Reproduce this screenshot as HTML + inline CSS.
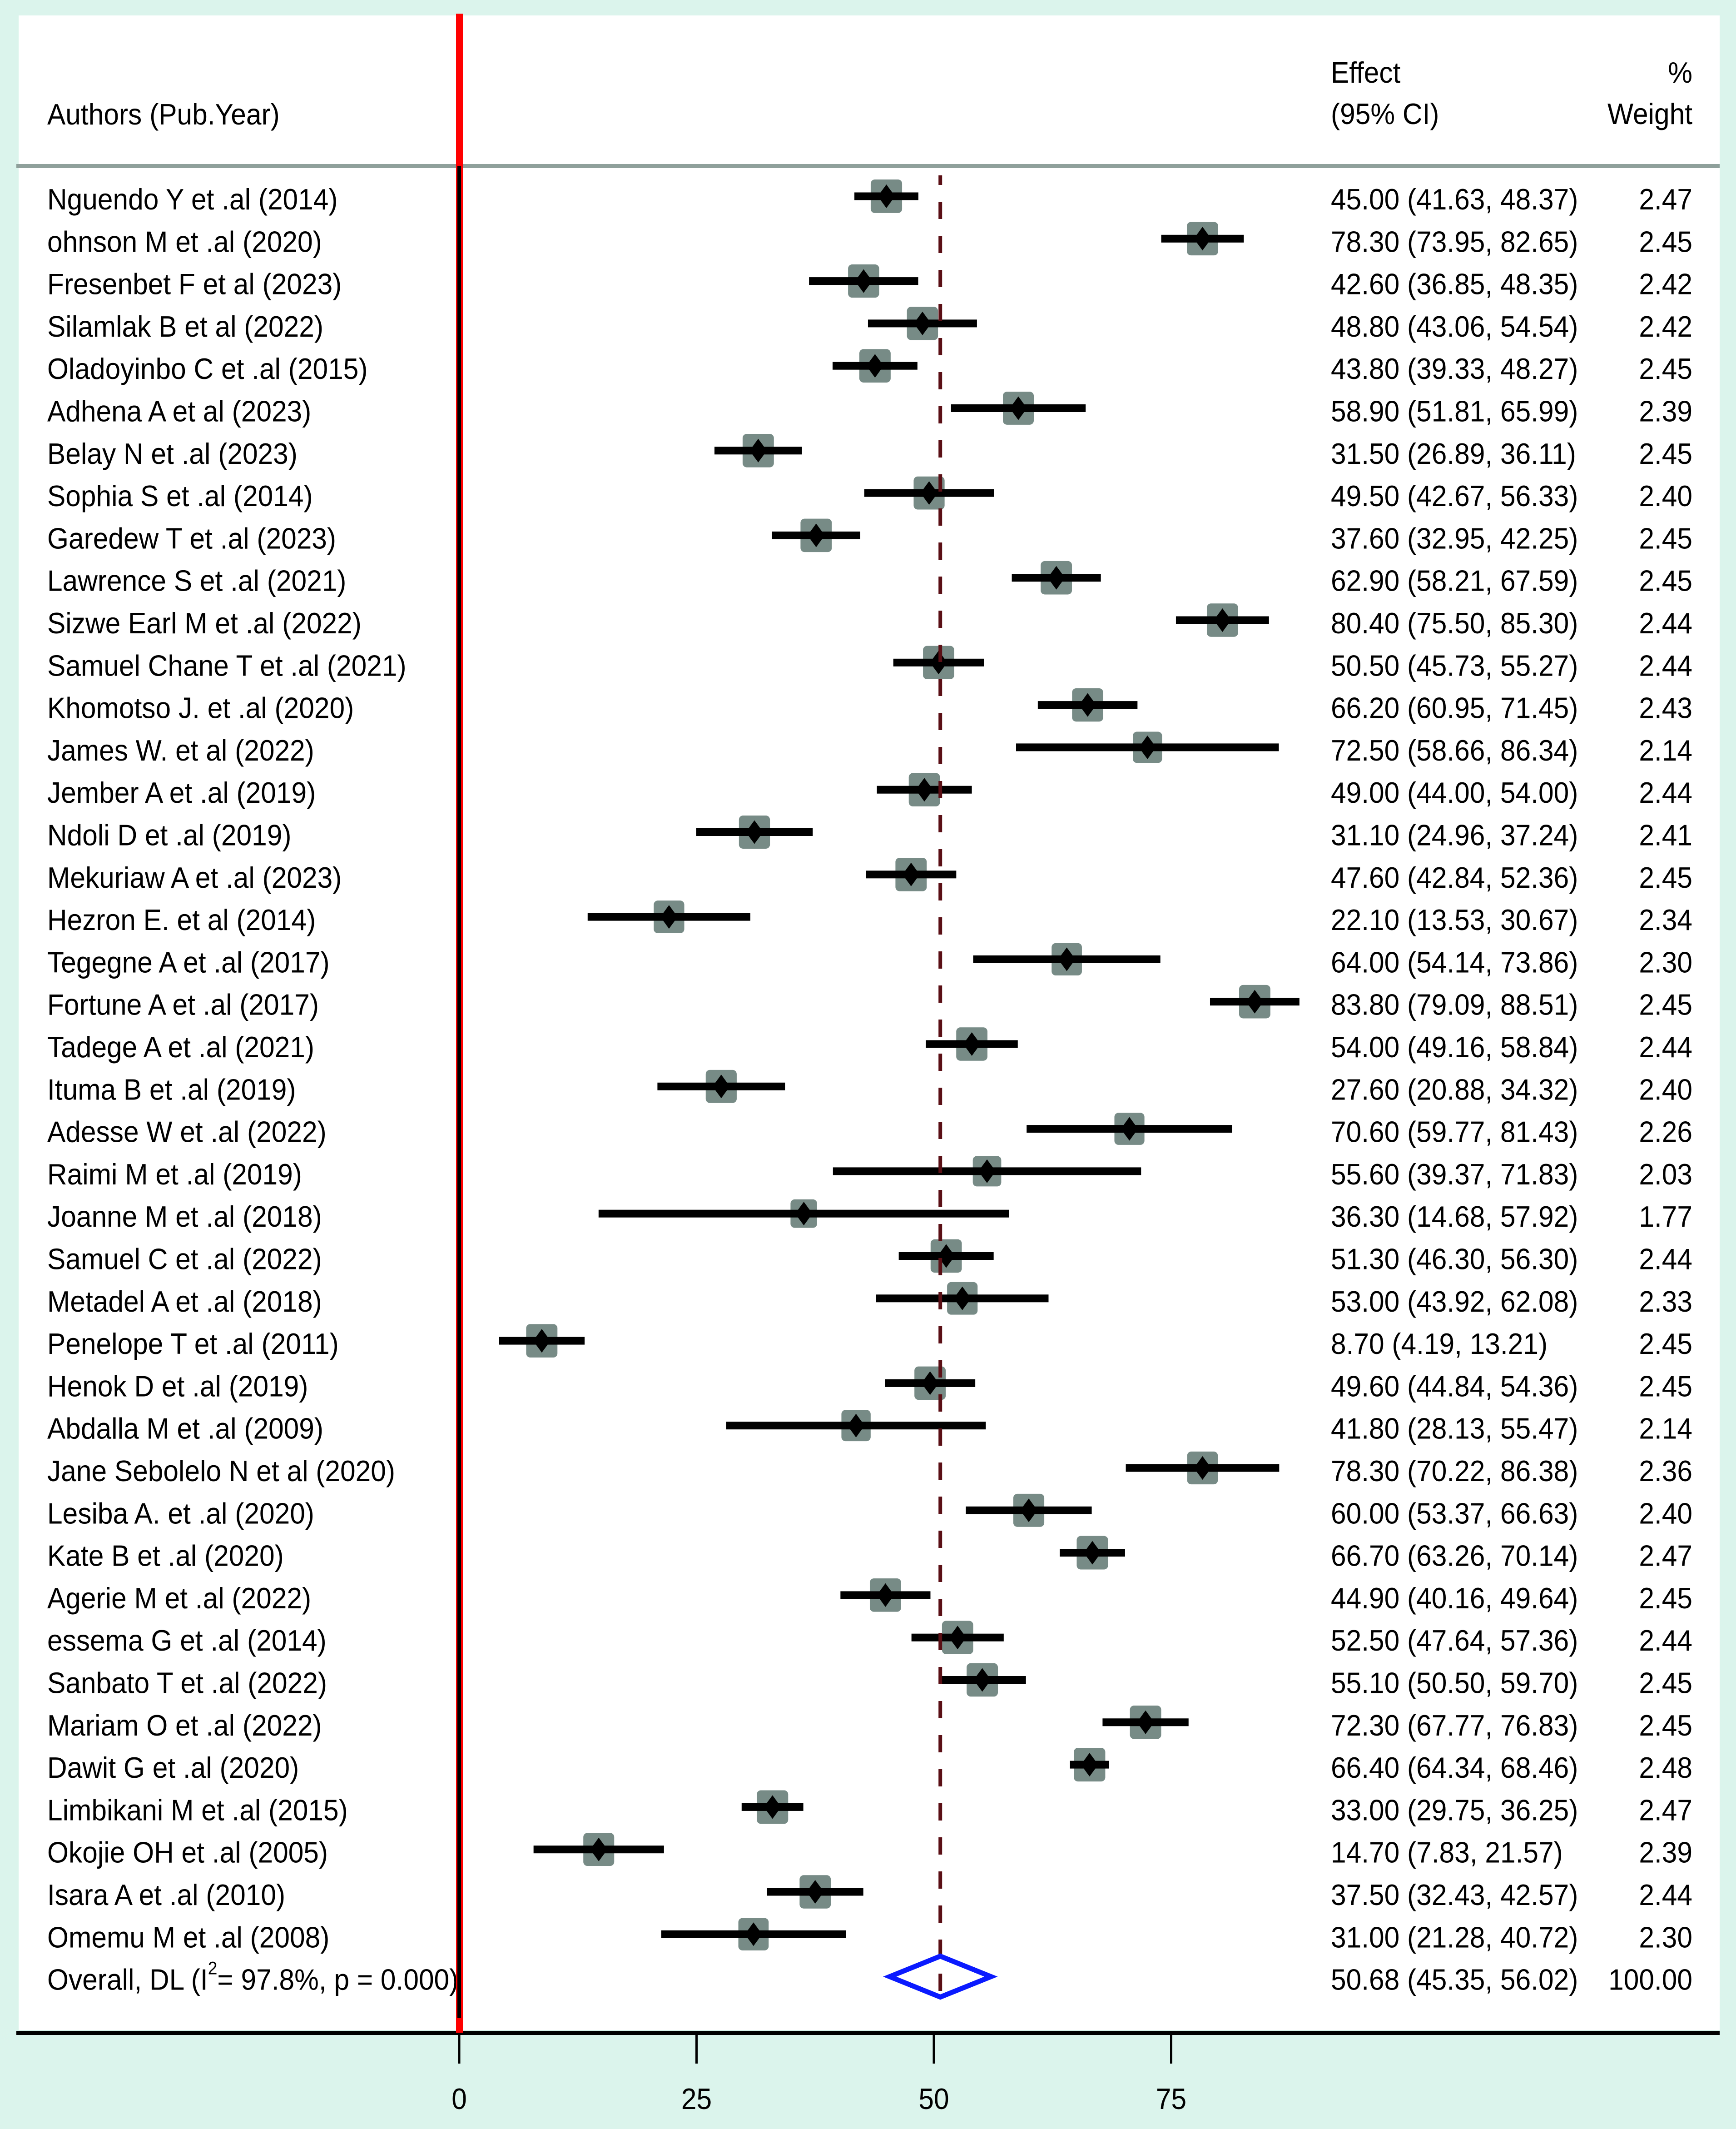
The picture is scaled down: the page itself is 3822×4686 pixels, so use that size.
<!DOCTYPE html>
<html><head><meta charset="utf-8"><style>
html,body{margin:0;padding:0;background:#dbf4ec;}
svg{display:block;font-family:"Liberation Sans",sans-serif;}
</style></head><body>
<svg id="chart" width="3822" height="4686" viewBox="0 0 3822 4686" xmlns="http://www.w3.org/2000/svg">
<rect x="0" y="0" width="3822" height="4686" fill="#dbf4ec"/>
<rect x="41" y="34" width="3745" height="4434" fill="#ffffff"/>
<g id="header"></g>
<rect x="36" y="361" width="3750" height="9" fill="#8fa09b"/>
<g id="rows"></g>
<g id="axis"></g>
</svg>
<script>
const studies = ["Nguendo Y et .al (2014)","ohnson M et .al (2020)","Fresenbet F et al (2023)","Silamlak B et al (2022)","Oladoyinbo C et .al (2015)","Adhena A et al (2023)","Belay N et .al (2023)","Sophia S et .al (2014)","Garedew T et .al (2023)","Lawrence S et .al (2021)","Sizwe Earl M et .al (2022)","Samuel Chane T et .al (2021)","Khomotso J. et .al (2020)","James W. et al (2022)","Jember A et .al (2019)","Ndoli D et .al (2019)","Mekuriaw A et .al (2023)","Hezron E. et al (2014)","Tegegne A et .al (2017)","Fortune A et .al (2017)","Tadege A et .al (2021)","Ituma B et .al (2019)","Adesse W et .al (2022)","Raimi M et .al (2019)","Joanne M et .al (2018)","Samuel C et .al (2022)","Metadel A et .al (2018)","Penelope T et .al (2011)","Henok D et .al (2019)","Abdalla M et .al (2009)","Jane Sebolelo N et al (2020)","Lesiba A. et .al (2020)","Kate B et .al (2020)","Agerie M et .al (2022)","essema G et .al (2014)","Sanbato T et .al (2022)","Mariam O et .al (2022)","Dawit G et .al (2020)","Limbikani M et .al (2015)","Okojie OH et .al (2005)","Isara A et .al (2010)","Omemu M et .al (2008)"];
const effects = [45.00,78.30,42.60,48.80,43.80,58.90,31.50,49.50,37.60,62.90,80.40,50.50,66.20,72.50,49.00,31.10,47.60,22.10,64.00,83.80,54.00,27.60,70.60,55.60,36.30,51.30,53.00,8.70,49.60,41.80,78.30,60.00,66.70,44.90,52.50,55.10,72.30,66.40,33.00,14.70,37.50,31.00];
const lower = [41.63,73.95,36.85,43.06,39.33,51.81,26.89,42.67,32.95,58.21,75.50,45.73,60.95,58.66,44.00,24.96,42.84,13.53,54.14,79.09,49.16,20.88,59.77,39.37,14.68,46.30,43.92,4.19,44.84,28.13,70.22,53.37,63.26,40.16,47.64,50.50,67.77,64.34,29.75,7.83,32.43,21.28];
const upper = [48.37,82.65,48.35,54.54,48.27,65.99,36.11,56.33,42.25,67.59,85.30,55.27,71.45,86.34,54.00,37.24,52.36,30.67,73.86,88.51,58.84,34.32,81.43,71.83,57.92,56.30,62.08,13.21,54.36,55.47,86.38,66.63,70.14,49.64,57.36,59.70,76.83,68.46,36.25,21.57,42.57,40.72];
const weights = [2.47,2.45,2.42,2.42,2.45,2.39,2.45,2.40,2.45,2.45,2.44,2.44,2.43,2.14,2.44,2.41,2.45,2.34,2.30,2.45,2.44,2.40,2.26,2.03,1.77,2.44,2.33,2.45,2.45,2.14,2.36,2.40,2.47,2.45,2.44,2.45,2.45,2.48,2.47,2.39,2.44,2.30];
const overall = [50.68, 45.35, 56.02];
const overallWeight = "100.00";
const ticks = [0, 25, 50, 75];

const NS = "http://www.w3.org/2000/svg";
const X = v => 1011 + v * 20.9;
const rowY = i => 432 + i * 93.3;
function el(tag, attrs, parent) {
  const e = document.createElementNS(NS, tag);
  for (const k in attrs) e.setAttribute(k, attrs[k]);
  parent.appendChild(e);
  return e;
}
function txt(parent, x, y, s, anchor) {
  const t = el('text', {transform: `translate(${x},${y}) scale(0.93,1)`, 'font-size': 65, fill: '#000', 'text-anchor': anchor || 'start'}, parent);
  t.textContent = s;
  return t;
}
const svg = document.getElementById('chart');
const header = document.getElementById('header');
let t;
t = txt(header, 104, 274, 'Authors (Pub.Year)');


t = txt(header, 2930, 182, 'Effect');


t = txt(header, 2930, 273, '(95% CI)');


t = txt(header, 3726, 182, '%', 'end');


t = txt(header, 3726, 273, 'Weight', 'end');



let r = el('rect', {x: 1004, y: 30, width: 15, height: 4444, fill: '#ff0000'}, svg);


r = el('rect', {x: 1007, y: 365, width: 8, height: 4077, fill: '#000'}, svg);



const rows = document.getElementById('rows');
studies.forEach((name, i) => {
  const cy = rowY(i);
  const g = el('g', {}, rows);
  
  
  const lab = txt(g, 104, cy + 29, name);
  
  
  const es = txt(g, 2930, cy + 29, `${effects[i].toFixed(2)} (${lower[i].toFixed(2)}, ${upper[i].toFixed(2)})`);
  
  
  const wt = txt(g, 3726, cy + 29, weights[i].toFixed(2), 'end');
  
  
  const s = Math.sqrt(weights[i]);
  const bw = 44 * s, bh = 47 * s;
  const box = el('rect', {x: X(effects[i]) - bw / 2, y: cy - bh / 2, width: bw, height: bh, rx: 9, fill: '#778b86'}, g);
  
  
  const ci = el('rect', {x: X(lower[i]), y: cy - 8.5, width: X(upper[i]) - X(lower[i]), height: 17, fill: '#000'}, g);
  
  
  const px = X(effects[i]);
  const d = el('polygon', {points: `${px},${cy-26} ${px+19},${cy} ${px},${cy+26} ${px-19},${cy}`, fill: '#000'}, g);
  
  
});

const oy = rowY(studies.length);
const og = el('g', {}, rows);


const ol = el('text', {transform: `translate(104,${oy+29}) scale(0.93,1)`, 'font-size': 65, fill: '#000'}, og);


ol.innerHTML = 'Overall, DL (I<tspan dy="-34" font-size="40">2</tspan><tspan dy="34">= 97.8%, p = 0.000)</tspan>';
let oe = txt(og, 2930, oy + 29, `${overall[0].toFixed(2)} (${overall[1].toFixed(2)}, ${overall[2].toFixed(2)})`);


let ow = txt(og, 3726, oy + 29, overallWeight, 'end');



const dl = el('line', {x1: X(overall[0]), x2: X(overall[0]), y1: 386, y2: oy + 45, stroke: '#5a0f15', 'stroke-width': 8, 'stroke-dasharray': '38 37', 'stroke-dashoffset': 17}, svg);


const dia = el('polygon', {points: `${X(overall[1])},${oy} ${X(overall[0])},${oy-45} ${X(overall[2])},${oy} ${X(overall[0])},${oy+45}`, fill: 'none', stroke: '#0a1aff', 'stroke-width': 11}, svg);



const axis = document.getElementById('axis');
const al = el('rect', {x: 36, y: 4470, width: 3750, height: 9, fill: '#000'}, axis);


ticks.forEach(v => {
  const tk = el('rect', {x: X(v) - 2.5, y: 4474, width: 5, height: 68, fill: '#000'}, axis);
  
  
  const tl = txt(axis, X(v), 4642, String(v), 'middle');
  
  
});
</script>
</body></html>
